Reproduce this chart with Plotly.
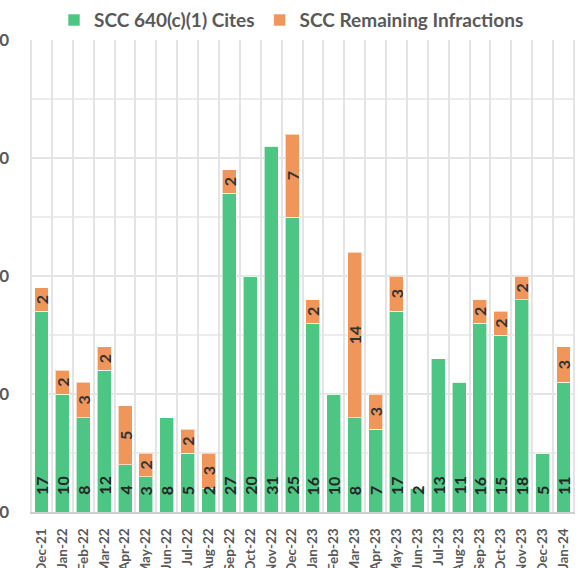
import plotly.graph_objects as go

months = ["Dec-21", "Jan-22", "Feb-22", "Mar-22", "Apr-22", "May-22", "Jun-22",
          "Jul-22", "Aug-22", "Sep-22", "Oct-22", "Nov-22", "Dec-22", "Jan-23",
          "Feb-23", "Mar-23", "Apr-23", "May-23", "Jun-23", "Jul-23", "Aug-23",
          "Sep-23", "Oct-23", "Nov-23", "Dec-23", "Jan-24"]
cites_640 = [17, 10, 8, 12, 4, 3, 8, 5, 2, 27, 20, 31, 25, 16, 10, 8, 7, 17,
             2, 13, 11, 16, 15, 18, 5, 11]
remaining = [2, 2, 3, 2, 5, 2, 0, 2, 3, 2, 0, 0, 7, 2, 0, 14, 3, 3, 0, 0, 0,
             2, 2, 2, 0, 3]
y_ticks = [0, 10, 20, 30, 40]

GREEN = "#4DC583"
ORANGE = "#F1965A"
GRAY = "#595959"
FONT = "Lato"

fig = go.Figure()
fig.add_trace(go.Bar(
    x=months, y=cites_640, name="SCC 640(c)(1) Cites",
    marker=dict(color=GREEN, line=dict(color="rgba(255,255,255,0.6)", width=1)),
))
fig.add_trace(go.Bar(
    x=months, y=remaining, name="SCC Remaining Infractions",
    marker=dict(color=ORANGE, line=dict(color="rgba(255,255,255,0.6)", width=1)),
    text=[str(v) if v else "" for v in remaining],
    textposition="inside", insidetextanchor="middle", textangle=-90,
    constraintext="none",
    textfont=dict(family=FONT, size=16, color="#333333", weight="bold"),
))

# value labels at the base of the green bars
for m, v in zip(months, cites_640):
    fig.add_annotation(
        x=m, y=0, text=str(v), showarrow=False, textangle=-90,
        xanchor="center", yanchor="bottom", yshift=15,
        font=dict(family=FONT, size=16, color="#262626", weight="bold"),
    )

fig.update_layout(
    width=583, height=568,
    barmode="stack", bargap=0.33,
    plot_bgcolor="white", paper_bgcolor="white",
    margin=dict(l=30, r=8, t=40, b=56),
    uniformtext=dict(minsize=15, mode="show"),
    font=dict(family=FONT, color=GRAY),
    legend=dict(
        orientation="h", xref="container", x=0.5, xanchor="center",
        yref="container", y=0.998, yanchor="top",
        font=dict(family=FONT, size=19, color=GRAY, weight="bold"),
        itemwidth=30, traceorder="normal",
    ),
    xaxis=dict(
        type="category", tickangle=-90, automargin=False,
        tickfont=dict(family=FONT, size=13.5, color=GRAY, weight="bold"),
        showgrid=True, gridcolor="#e4e4e4", gridwidth=1.5, tickson="boundaries",
        ticks="", showline=True, linecolor="#cfcfcf", linewidth=2,
        ticklabelstandoff=9,
    ),
    yaxis=dict(
        range=[0, 40], tickvals=y_ticks, automargin=False,
        tickfont=dict(family=FONT, size=17, color=GRAY, weight="bold"),
        showgrid=True, gridcolor="#e4e4e4", gridwidth=1.5,
        minor=dict(dtick=5, showgrid=True, gridcolor="#ececec", gridwidth=1.5),
        zeroline=False, ticklabelstandoff=20,
    ),
)

fig.write_html("out.html")
